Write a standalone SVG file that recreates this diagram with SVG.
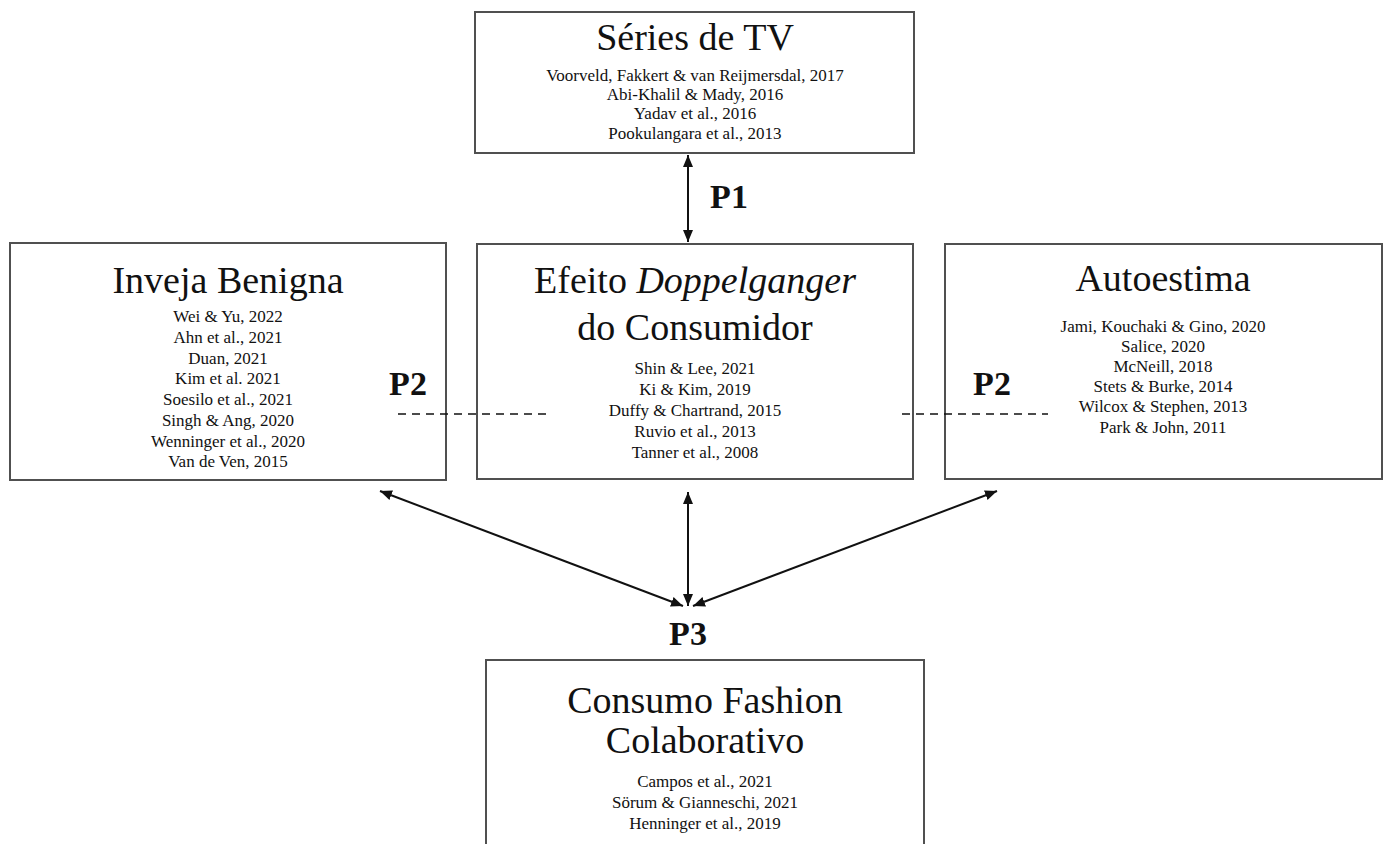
<svg xmlns="http://www.w3.org/2000/svg" width="1387" height="844" viewBox="0 0 1387 844">
<style>
.box{fill:#fff;stroke:#505050;stroke-width:2}
.t{font-family:"Liberation Serif","Times New Roman",serif;font-size:38px;fill:#111;text-anchor:middle}
.r{font-family:"Liberation Serif","Times New Roman",serif;font-size:17px;fill:#111;text-anchor:middle}
.p{font-family:"Liberation Serif","Times New Roman",serif;font-size:34px;font-weight:bold;fill:#111;text-anchor:middle}
.a{stroke:#111;stroke-width:2;fill:none;marker-start:url(#ah);marker-end:url(#ah)}
.d{stroke:#111;stroke-width:1.5;stroke-dasharray:8 6;fill:none}
</style>
<defs>
<marker id="ah" viewBox="0 0 12 10" refX="12" refY="5" markerWidth="12" markerHeight="10" markerUnits="userSpaceOnUse" orient="auto-start-reverse">
<path d="M0,0 L12,5 L0,10 z" fill="#111"/>
</marker>
</defs>
<rect width="1387" height="844" fill="#fff"/>
<g id="series">
<rect class="box" x="475" y="12" width="439" height="141"/>
<text class="t" x="695" y="50">Séries de TV</text>
<text class="r" x="695" y="81">Voorveld, Fakkert &amp; van Reijmersdal, 2017</text>
<text class="r" x="695" y="100">Abi-Khalil &amp; Mady, 2016</text>
<text class="r" x="695" y="119">Yadav et al., 2016</text>
<text class="r" x="695" y="139">Pookulangara et al., 2013</text>
</g>
<g id="inveja">
<rect class="box" x="10" y="243" width="436" height="237"/>
<text class="t" x="228" y="293">Inveja Benigna</text>
<text class="r" x="228" y="322">Wei &amp; Yu, 2022</text>
<text class="r" x="228" y="343">Ahn et al., 2021</text>
<text class="r" x="228" y="364">Duan, 2021</text>
<text class="r" x="228" y="384">Kim et al. 2021</text>
<text class="r" x="228" y="405">Soesilo et al., 2021</text>
<text class="r" x="228" y="426">Singh &amp; Ang, 2020</text>
<text class="r" x="228" y="447">Wenninger et al., 2020</text>
<text class="r" x="228" y="467">Van de Ven, 2015</text>
</g>
<g id="efeito">
<rect class="box" x="477" y="244" width="436" height="235"/>
<text class="t" x="695" y="293">Efeito <tspan font-style="italic">Doppelganger</tspan></text>
<text class="t" x="695" y="340">do Consumidor</text>
<text class="r" x="695" y="374">Shin &amp; Lee, 2021</text>
<text class="r" x="695" y="395">Ki &amp; Kim, 2019</text>
<text class="r" x="695" y="416">Duffy &amp; Chartrand, 2015</text>
<text class="r" x="695" y="437">Ruvio et al., 2013</text>
<text class="r" x="695" y="458">Tanner et al., 2008</text>
</g>
<g id="autoestima">
<rect class="box" x="945" y="244" width="437" height="235"/>
<text class="t" x="1163" y="291">Autoestima</text>
<text class="r" x="1163" y="332">Jami, Kouchaki &amp; Gino, 2020</text>
<text class="r" x="1163" y="352">Salice, 2020</text>
<text class="r" x="1163" y="372">McNeill, 2018</text>
<text class="r" x="1163" y="392">Stets &amp; Burke, 2014</text>
<text class="r" x="1163" y="412">Wilcox &amp; Stephen, 2013</text>
<text class="r" x="1163" y="433">Park &amp; John, 2011</text>
</g>
<g id="consumo">
<rect class="box" x="486" y="660" width="438" height="200"/>
<text class="t" x="705" y="713">Consumo Fashion</text>
<text class="t" x="705" y="753">Colaborativo</text>
<text class="r" x="705" y="787">Campos et al., 2021</text>
<text class="r" x="705" y="808">Sörum &amp; Gianneschi, 2021</text>
<text class="r" x="705" y="829">Henninger et al., 2019</text>
</g>
<g id="connectors">
<line class="a" x1="688" y1="155" x2="688" y2="242"/>
<line class="a" x1="380" y1="491" x2="683" y2="606"/>
<line class="a" x1="688" y1="492" x2="688" y2="606"/>
<line class="a" x1="997" y1="491" x2="693" y2="606"/>
<line class="d" x1="398" y1="414" x2="548" y2="414"/>
<line class="d" x1="902" y1="414" x2="1048" y2="414"/>
</g>
<g id="labels">
<text class="p" x="729" y="208">P1</text>
<text class="p" x="408" y="395">P2</text>
<text class="p" x="992" y="395">P2</text>
<text class="p" x="688" y="645">P3</text>
</g>
</svg>
